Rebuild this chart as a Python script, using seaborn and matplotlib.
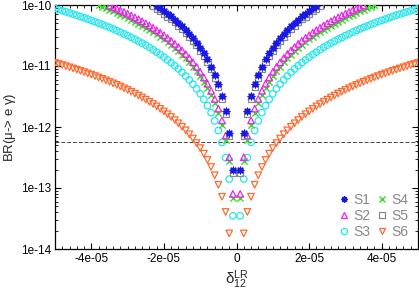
import numpy as np
import pandas as pd
import matplotlib
matplotlib.use("Agg")
import matplotlib.pyplot as plt
import seaborn as sns
from matplotlib.ticker import MultipleLocator, LogLocator, NullFormatter, FixedLocator
from matplotlib.lines import Line2D

sns.set_theme(style="ticks")
plt.rcParams['font.family'] = ['Liberation Sans', 'DejaVu Sans']

# delta_12^LR sampling (units of 1e-6), positive side; chart is symmetric about 0
k_pos = [1, 2, 3, 4, 5, 6, 7, 8, 9, 10, 11, 12, 13, 14, 15, 16, 17, 18, 19, 20,
         21, 22, 23, 24, 25, 26, 27, 28, 29, 30, 31, 32, 33, 34, 35, 36, 37, 38, 39, 40,
         41, 42, 43, 44, 45, 46, 47, 48, 49, 50]

# BR values for k = 1, 2, ... (only points inside the plot window)
br_S1 = [2.0e-13, 8.0e-13, 1.8e-12, 3.2e-12, 5.0e-12, 7.2e-12, 9.8e-12, 1.28e-11, 1.62e-11, 2.0e-11,
         2.42e-11, 2.88e-11, 3.38e-11, 3.92e-11, 4.5e-11, 5.12e-11, 5.78e-11, 6.48e-11, 7.22e-11, 8.0e-11,
         8.82e-11, 9.68e-11]
br_S5 = [1.8e-13, 7.2e-13, 1.62e-12, 2.88e-12, 4.5e-12, 6.48e-12, 8.82e-12, 1.15e-11, 1.46e-11, 1.8e-11,
         2.18e-11, 2.59e-11, 3.04e-11, 3.53e-11, 4.05e-11, 4.61e-11, 5.2e-11, 5.83e-11, 6.5e-11, 7.2e-11,
         7.94e-11, 8.71e-11, 9.52e-11]
br_S2 = [8.0e-14, 3.2e-13, 7.2e-13, 1.28e-12, 2.0e-12, 2.88e-12, 3.92e-12, 5.12e-12, 6.48e-12, 8.0e-12,
         9.68e-12, 1.15e-11, 1.35e-11, 1.57e-11, 1.8e-11, 2.05e-11, 2.31e-11, 2.59e-11, 2.89e-11, 3.2e-11,
         3.53e-11, 3.87e-11, 4.23e-11, 4.61e-11, 5.0e-11, 5.41e-11, 5.83e-11, 6.27e-11, 6.73e-11, 7.2e-11,
         7.69e-11, 8.19e-11, 8.71e-11, 9.25e-11, 9.8e-11]
br_S4 = [6.8e-14, 2.72e-13, 6.12e-13, 1.09e-12, 1.7e-12, 2.45e-12, 3.33e-12, 4.35e-12, 5.51e-12, 6.8e-12,
         8.23e-12, 9.79e-12, 1.15e-11, 1.33e-11, 1.53e-11, 1.74e-11, 1.97e-11, 2.2e-11, 2.45e-11, 2.72e-11,
         3.0e-11, 3.29e-11, 3.6e-11, 3.92e-11, 4.25e-11, 4.6e-11, 4.96e-11, 5.33e-11, 5.72e-11, 6.12e-11,
         6.53e-11, 6.96e-11, 7.41e-11, 7.86e-11, 8.33e-11, 8.81e-11, 9.31e-11, 9.82e-11]
br_S3 = [3.5e-14, 1.4e-13, 3.15e-13, 5.6e-13, 8.75e-13, 1.26e-12, 1.72e-12, 2.24e-12, 2.84e-12, 3.5e-12,
         4.24e-12, 5.04e-12, 5.92e-12, 6.86e-12, 7.88e-12, 8.96e-12, 1.01e-11, 1.13e-11, 1.26e-11, 1.4e-11,
         1.54e-11, 1.69e-11, 1.85e-11, 2.02e-11, 2.19e-11, 2.37e-11, 2.55e-11, 2.74e-11, 2.94e-11, 3.15e-11,
         3.36e-11, 3.58e-11, 3.81e-11, 4.05e-11, 4.29e-11, 4.54e-11, 4.79e-11, 5.05e-11, 5.32e-11, 5.6e-11,
         5.88e-11, 6.17e-11, 6.47e-11, 6.78e-11, 7.09e-11, 7.41e-11, 7.73e-11, 8.06e-11, 8.4e-11, 8.75e-11]
br_S6 = [4.5e-15, 1.8e-14, 4.05e-14, 7.2e-14, 1.13e-13, 1.62e-13, 2.21e-13, 2.88e-13, 3.65e-13, 4.5e-13,
         5.45e-13, 6.48e-13, 7.61e-13, 8.82e-13, 1.01e-12, 1.15e-12, 1.3e-12, 1.46e-12, 1.62e-12, 1.8e-12,
         1.98e-12, 2.18e-12, 2.38e-12, 2.59e-12, 2.81e-12, 3.04e-12, 3.28e-12, 3.53e-12, 3.78e-12, 4.05e-12,
         4.32e-12, 4.61e-12, 4.9e-12, 5.2e-12, 5.51e-12, 5.83e-12, 6.16e-12, 6.5e-12, 6.84e-12, 7.2e-12,
         7.56e-12, 7.94e-12, 8.32e-12, 8.71e-12, 9.11e-12, 9.52e-12, 9.94e-12, 1.04e-11, 1.08e-11, 1.13e-11]

meg_bound = 5.7e-13
series_names = ["S1", "S2", "S3", "S4", "S5", "S6"]
series_vals = {"S1": br_S1, "S2": br_S2, "S3": br_S3, "S4": br_S4, "S5": br_S5, "S6": br_S6}
x_ticks = [-4e-05, -2e-05, 0, 2e-05, 4e-05]
x_ticklabels = ["-4e-05", "-2e-05", "0", "2e-05", "4e-05"]
y_ticks = [1e-14, 1e-13, 1e-12, 1e-11, 1e-10]
y_ticklabels = ["1e-14", "1e-13", "1e-12", "1e-11", "1e-10"]

rows = []
for name in series_names:
    vals = series_vals[name]
    for k, v in zip(k_pos, vals):
        rows.append((name, k * 1e-6, v))
        rows.append((name, -k * 1e-6, v))
df = pd.DataFrame(rows, columns=["series", "delta", "br"])

styles = {
    "S1": dict(marker=(8, 2, 0), color="#1818e8", face="#1818e8", size=22, lw=1.0),
    "S2": dict(marker="^", color="#ee22ee", face="none", size=22, lw=0.9),
    "S3": dict(marker="o", color="#22e6ee", face="none", size=22, lw=0.9),
    "S4": dict(marker="x", color="#33dd22", face="#33dd22", size=20, lw=1.0),
    "S5": dict(marker="s", color="#8a8a8a", face="none", size=20, lw=0.9),
    "S6": dict(marker="v", color="#ff6a30", face="none", size=22, lw=0.9),
}

fig = plt.figure(figsize=(4.19, 2.90), dpi=100)
ax = fig.add_axes([55/419, 1-249/290, 363/419, 244/290])

ax.axhline(meg_bound, color="#444444", lw=0.7, ls=(0, (4, 2)), zorder=1)

draw_order = ["S6", "S3", "S4", "S2", "S5", "S1"]
for name in draw_order:
    st = styles[name]
    sub = df[df.series == name]
    sns.scatterplot(data=sub, x="delta", y="br", ax=ax, marker=st["marker"],
                    s=st["size"], facecolors=st["face"], edgecolor=st["color"],
                    color=st["color"], linewidth=st["lw"], legend=False, zorder=3)

ax.set_yscale("log")
ax.set_xlim(-5e-5, 5e-5)
ax.set_ylim(1e-14, 1e-10)

ax.xaxis.set_major_locator(FixedLocator(x_ticks))
ax.set_xticklabels(x_ticklabels)
ax.xaxis.set_minor_locator(MultipleLocator(2e-6))
ax.yaxis.set_major_locator(FixedLocator(y_ticks))
ax.set_yticklabels(y_ticklabels)
ax.yaxis.set_minor_locator(LogLocator(base=10, subs=np.arange(2, 10)))
ax.yaxis.set_minor_formatter(NullFormatter())

ax.tick_params(which="both", direction="in", top=True, right=True, labelsize=8.5,
               colors="black", pad=3)
ax.tick_params(which="major", length=4, width=0.8)
ax.tick_params(which="minor", length=2, width=0.6)
for sp in ax.spines.values():
    sp.set_color("black")
    sp.set_linewidth(0.9)

ax.set_xlabel(r"$\mathregular{\delta^{LR}_{12}}$", fontsize=11, labelpad=2)
ax.set_ylabel(r"BR($\mathregular{\mu}$-> e $\mathregular{\gamma}$)", fontsize=9.5)
ax.yaxis.set_label_coords(-0.102, 0.5)

# legend
handles = []
labels = []
for name in ["S1", "S2", "S3", "S4", "S5", "S6"]:
    st = styles[name]
    handles.append(Line2D([], [], ls="none", marker=st["marker"], markersize=4.5,
                          markerfacecolor=st["face"], markeredgecolor=st["color"],
                          markeredgewidth=st["lw"]))
    labels.append(name)
leg = ax.legend(handles, labels, ncol=2, loc="lower right", frameon=False,
                fontsize=10, handlelength=0.8, handletextpad=0.3, columnspacing=0.4,
                labelspacing=0.15, borderaxespad=0.3, labelcolor="#888888")

fig.savefig("out.png", dpi=100)
